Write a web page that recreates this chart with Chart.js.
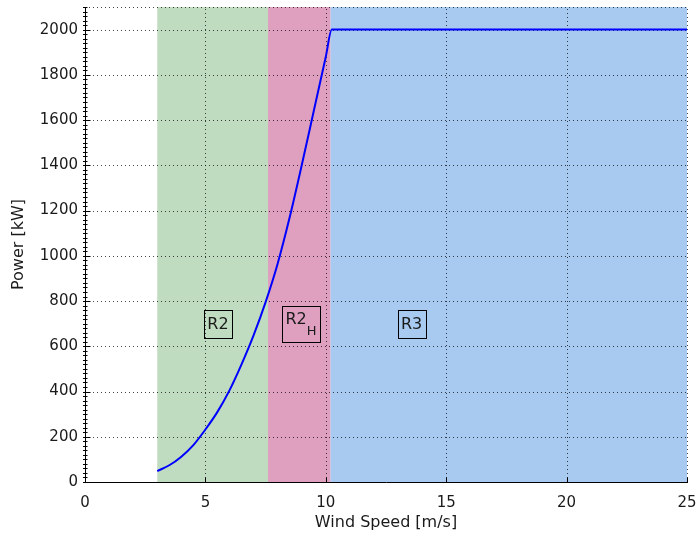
<!DOCTYPE html>
<html>
<head>
<meta charset="utf-8">
<script src="https://cdn.jsdelivr.net/npm/chart.js@4/dist/chart.umd.min.js"></script>
<style>
  html, body { margin: 0; padding: 0; background: #ffffff; }
  #wrap { width: 696px; height: 538px; }
</style>
</head>
<body>
<div id="wrap"><canvas id="c" width="696" height="538"></canvas></div>
<script>
// Turbine power curve: wind speed [m/s] vs. electrical power [kW]
const windSpeed = [3, 3.5, 4, 4.5, 5, 5.5, 6, 6.5, 7, 7.5, 8, 8.5, 9, 9.5, 10, 10.25, 25];
const power     = [48, 74, 112, 163, 232, 310, 405, 520, 648, 795, 965, 1170, 1400, 1640, 1880, 2000, 2000];

// Operating regions (wind-speed spans)
const regionNames = ['R2', 'R2H', 'R3'];
const regionFrom  = [3, 7.6, 10.2];
const regionTo    = [7.6, 10.2, 25];
const regionFill  = ['#c0dcc0', '#dfa0c0', '#a8caf0'];

// Region label anchors (data coordinates)
const labelWind  = [5.52, 8.97, 13.56];
const labelPower = [700, 700, 700];

// Axis ticks
const xTicks = [0, 5, 10, 15, 20, 25];
const yTicks = [0, 200, 400, 600, 800, 1000, 1200, 1400, 1600, 1800, 2000];
const yMax = 2100;
const yMinorStep = 20;

const FONT = '"DejaVu Sans", sans-serif';
const INK = '#1a1a1a';
const GRID = 'rgba(0,0,0,0.72)';

const regionsPlugin = {
  id: 'regions',
  beforeDraw(chart) {
    const { ctx, scales: { x, y } } = chart;
    ctx.save();
    ctx.fillStyle = '#ffffff';
    ctx.fillRect(0, 0, chart.width, chart.height);
    const top = y.getPixelForValue(yMax);
    const bottom = y.getPixelForValue(0);
    regionNames.forEach((name, i) => {
      const x0 = x.getPixelForValue(regionFrom[i]);
      const x1 = x.getPixelForValue(regionTo[i]);
      ctx.fillStyle = regionFill[i];
      ctx.fillRect(x0, top, x1 - x0, bottom - top);
    });
    ctx.restore();
  },
  beforeDatasetsDraw(chart) {
    // dotted grid at the tick positions (plus the top edge)
    const { ctx, chartArea, scales: { x, y } } = chart;
    ctx.save();
    ctx.strokeStyle = GRID;
    ctx.lineWidth = 1;
    ctx.setLineDash([1, 3]);
    ctx.beginPath();
    xTicks.forEach(v => {
      if (v === xTicks[0]) return;
      const px = Math.round(x.getPixelForValue(v)) + 0.5;
      ctx.moveTo(px, chartArea.bottom);
      ctx.lineTo(px, chartArea.top);
    });
    yTicks.concat([yMax]).forEach(v => {
      if (v === yTicks[0]) return;
      const py = Math.round(y.getPixelForValue(v)) + 0.5;
      ctx.moveTo(chartArea.left, py);
      ctx.lineTo(chartArea.right, py);
    });
    ctx.stroke();
    ctx.restore();
  },
  afterDraw(chart) {
    const { ctx, chartArea, scales: { x, y } } = chart;
    ctx.save();
    // axis lines
    const left = Math.round(chartArea.left) + 0.5;
    const bottom = Math.round(chartArea.bottom) + 0.5;
    ctx.strokeStyle = '#000000';
    ctx.lineWidth = 1;
    ctx.beginPath();
    ctx.moveTo(left, Math.round(chartArea.top));
    ctx.lineTo(left, bottom);
    ctx.lineTo(Math.round(chartArea.right) + 1, bottom);
    ctx.stroke();
    // minor ticks on the power axis
    ctx.beginPath();
    for (let v = 0; v <= yMax; v += yMinorStep) {
      const py = Math.round(y.getPixelForValue(v)) + 0.5;
      ctx.moveTo(left - 2.5, py);
      ctx.lineTo(left + 2, py);
    }
    // major ticks
    yTicks.forEach(v => {
      const py = Math.round(y.getPixelForValue(v)) + 0.5;
      ctx.moveTo(left - 2.5, py);
      ctx.lineTo(left + 5, py);
    });
    xTicks.forEach(v => {
      const px = Math.round(x.getPixelForValue(v)) + 0.5;
      ctx.moveTo(px, bottom);
      ctx.lineTo(px, bottom - 5);
    });
    ctx.stroke();

    // boxed region labels
    ctx.fillStyle = INK;
    ctx.strokeStyle = '#000000';
    ctx.textBaseline = 'middle';
    regionNames.forEach((name, i) => {
      const cx = x.getPixelForValue(labelWind[i]);
      const cy = y.getPixelForValue(labelPower[i]);
      const hasSub = name.length > 2;
      const main = name.slice(0, 2);
      const sub = name.slice(2);
      ctx.font = '16px ' + FONT;
      const wMain = ctx.measureText(main).width;
      ctx.font = '13px ' + FONT;
      const wSub = hasSub ? ctx.measureText(sub).width : 0;
      const w = wMain + wSub;
      const bw = Math.round(w + 7);
      const bh = hasSub ? 36 : 28;
      const bx = Math.round(cx - bw / 2) + 0.5;
      const by = Math.round(cy - bh / 2) + 0.5;
      ctx.lineWidth = 1;
      ctx.strokeRect(bx, by, bw, bh);
      ctx.textAlign = 'left';
      ctx.font = '16px ' + FONT;
      const tx = cx - w / 2;
      ctx.fillText(main, tx, hasSub ? cy - 4 : cy + 1);
      if (hasSub) {
        ctx.font = '13px ' + FONT;
        ctx.fillText(sub, tx + wMain, cy + 8);
      }
    });
    ctx.restore();
  }
};

new Chart(document.getElementById('c'), {
  type: 'line',
  data: {
    datasets: [{
      data: windSpeed.map((v, i) => ({ x: v, y: power[i] })),
      borderColor: '#0000ff',
      borderWidth: 2,
      pointRadius: 0,
      fill: false,
      cubicInterpolationMode: 'monotone'
    }]
  },
  options: {
    responsive: false,
    animation: false,
    events: [],
    layout: { padding: { top: 7, right: 9, left: 0, bottom: 0 } },
    plugins: { legend: { display: false }, tooltip: { enabled: false } },
    scales: {
      x: {
        type: 'linear',
        min: 0,
        max: 25,
        afterBuildTicks: s => { s.ticks = xTicks.map(v => ({ value: v })); },
        afterFit: s => { s.height = 56; s.paddingLeft = 0; s.paddingRight = 0; },
        border: { display: false },
        grid: { display: false, drawTicks: false },
        ticks: {
          color: INK, font: { family: FONT, size: 15 }, padding: 12, maxRotation: 0, autoSkip: false,
          callback: v => String(v)
        },
        title: { display: true, text: 'Wind Speed [m/s]', color: INK, font: { family: FONT, size: 16 }, padding: { top: 0, bottom: 6 } }
      },
      y: {
        type: 'linear',
        min: 0,
        max: yMax,
        afterBuildTicks: s => { s.ticks = yTicks.map(v => ({ value: v })); },
        afterFit: s => { s.width = 85; s.paddingTop = 0; s.paddingBottom = 0; },
        border: { display: false },
        grid: { display: false, drawTicks: false },
        ticks: {
          color: INK, font: { family: FONT, size: 15 }, padding: 7, autoSkip: false,
          callback: v => String(v)
        },
        title: { display: true, text: 'Power [kW]', color: INK, font: { family: FONT, size: 16 }, padding: { top: 9, bottom: 0 } }
      }
    }
  },
  plugins: [regionsPlugin]
});
</script>
</body>
</html>
